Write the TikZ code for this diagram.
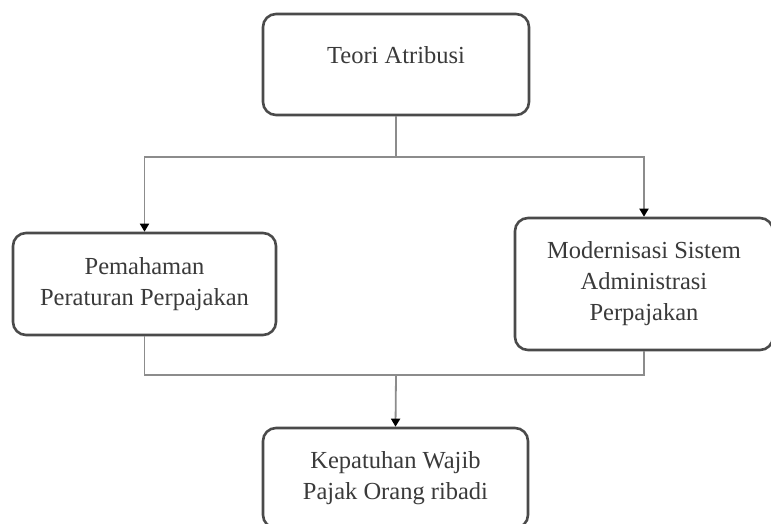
\documentclass[tikz,border=0pt]{standalone}
\usepackage{fontspec}
\setmainfont{Liberation Serif}
\usetikzlibrary{arrows.meta}
\definecolor{boxline}{HTML}{4A4A4A}
\definecolor{connline}{HTML}{8C8C8C}
\definecolor{txt}{HTML}{3A3A3A}
\begin{document}
\begin{tikzpicture}[x=1pt,y=1pt,
  box/.style={draw=boxline, line width=2.6pt, rounded corners=13pt, fill=white,
    align=center, text=txt, inner sep=0pt,
    font=\fontsize{24.5}{31}\selectfont},
  conn/.style={draw=connline, line width=1.8pt},
  arr/.style={-{Triangle[width=9pt,length=8pt,color=black]}}
]
\useasboundingbox (0,0) rectangle (771,523);
\fill[white] (0,0) rectangle (771,523);

\node[box, minimum width=266pt, minimum height=101pt, text depth=19pt] (teori) at (396,458.5) {Teori Atribusi};
\node[box, minimum width=263pt, minimum height=102pt] (pem) at (144.5,239) {Pemahaman\\Peraturan Perpajakan};
\node[box, minimum width=258pt, minimum height=132pt] (mod) at (644,239) {Modernisasi Sistem\\Administrasi\\Perpajakan};
\node[box, minimum width=265pt, minimum height=100pt] (kep) at (395.5,45) {Kepatuhan Wajib\\Pajak Orang ribadi};

\coordinate (split) at (396,366);
\coordinate (join) at (396,148);

\draw[conn] (teori.south) -- (split);
\draw[conn, arr] (split) -| (pem.north);
\draw[conn, arr] (split) -| (mod.north);
\draw[conn] (pem.south) |- (join);
\draw[conn] (mod.south) |- (join);
\draw[conn, arr] (join) -- (kep.north);
\end{tikzpicture}
\end{document}
